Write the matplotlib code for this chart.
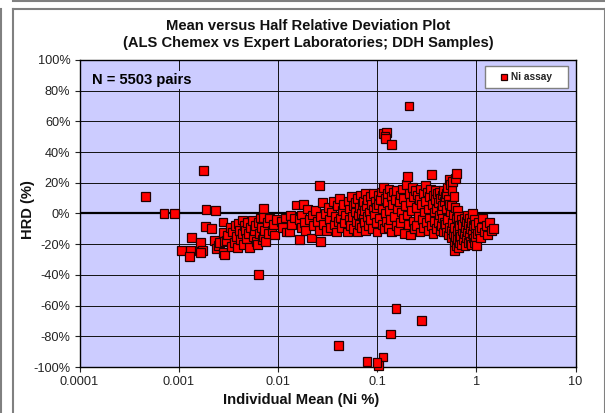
import matplotlib
matplotlib.use('Agg')
import matplotlib.pyplot as plt
import matplotlib.patheffects as pe
from matplotlib.lines import Line2D
from matplotlib.patches import Rectangle
from matplotlib.ticker import FuncFormatter

plt.rcParams['font.family'] = ['Liberation Sans', 'DejaVu Sans']

# individual mean (Ni %) and HRD (%)
mean_low = [0.00046, 0.00071, 0.00091, 0.00178, 0.00188, 0.00235, 0.00185, 0.00215, 0.00107, 0.00132,
            0.00135, 0.00128, 0.00166, 0.00175, 0.00165, 0.0064, 0.0023, 0.0024, 0.0025, 0.0026,
            0.0028, 0.0028, 0.0028, 0.0029, 0.003, 0.0029, 0.0031, 0.0033, 0.0034, 0.0035,
            0.0036, 0.0037, 0.0038, 0.0039, 0.004, 0.0041, 0.0042, 0.0044, 0.0044, 0.0045,
            0.0046, 0.0047, 0.0048, 0.0049, 0.005, 0.0052, 0.0053, 0.0055, 0.0056, 0.0058,
            0.0059, 0.006, 0.0062, 0.0063, 0.0065, 0.0066, 0.0068, 0.0069, 0.0071, 0.0072,
            0.0071, 0.0073, 0.0075, 0.0078, 0.008, 0.0083, 0.0087, 0.009, 0.0093, 0.0097]
hrd_low = [11, 0, 0, 28, 2.5, 2, -8.5, -10, -24, -24,
           -15.5, -28, -19, -24, -25.5, -39.5, -17.5, -23, -21, -19,
           -5.5, -12.5, -25.5, -18, -17.5, -27, -14, -9, -21.5, -12,
           -19, -8, -15, -22, -6.5, -11, -17, -4.3, -13, -20,
           -8, -11, -16.5, -6, -13, -22, -9, -4.5, -15, -11,
           -8, -18, -20, -6, -13, -3, -9, -17, 3.3, -2.5,
           -15, -11, -18, -6, -13, -3, -11, -7, -14, -4]

mean_mid = [0.0108, 0.0112, 0.0118, 0.0122, 0.0131, 0.0134, 0.0138, 0.0145, 0.0154, 0.0165,
            0.0166, 0.0172, 0.018, 0.0172, 0.0185, 0.019, 0.02, 0.021, 0.022, 0.0225,
            0.023, 0.024, 0.025, 0.026, 0.0262, 0.0268, 0.027, 0.028, 0.029, 0.03,
            0.031, 0.032, 0.033, 0.034, 0.035, 0.036, 0.037, 0.038, 0.039, 0.04,
            0.041, 0.042, 0.043, 0.044, 0.045, 0.046, 0.047, 0.048, 0.05, 0.051,
            0.052, 0.053, 0.054, 0.055, 0.056, 0.057, 0.058, 0.06, 0.061, 0.062,
            0.063, 0.064, 0.065, 0.066, 0.067, 0.068, 0.069, 0.07, 0.071, 0.072,
            0.073, 0.074, 0.075, 0.076, 0.077, 0.078, 0.079, 0.08, 0.082, 0.084,
            0.085, 0.086, 0.088, 0.09, 0.091, 0.092, 0.094, 0.096, 0.098, 0.099]
hrd_mid = [-5, -9, -3, -12, -12, -1.5, -7, -3, 5.5, -4,
           -17, -9, 6, -1, -6, -11, 3, -4, -16, -1,
           -8, 2, -5, -11, 18, -18, -2, 7, -7, 0,
           -11, 4, -4, -9, 1, 8, -7, -2, -12, 5,
           -5, 10, -3, -9, 2, 6, -6, -1, -12, 8,
           -4, 3, -8, 11, -2, 5, -10, 1, 7, -5,
           -12, 10, -1, 4, -7, 12, 0, -9, 6, -3,
           8, -6, 2, 13, -11, 5, -2, 9, -8, 1,
           11, -4, 6, -10, 3, 13, -1, 8, -6, 4]

mean_high = [0.1, 0.102, 0.104, 0.106, 0.108, 0.11, 0.112, 0.114, 0.116, 0.118,
             0.12, 0.122, 0.124, 0.126, 0.128, 0.13, 0.132, 0.134, 0.136, 0.138,
             0.14, 0.143, 0.146, 0.149, 0.152, 0.155, 0.158, 0.16, 0.163, 0.166,
             0.17, 0.173, 0.176, 0.18, 0.183, 0.186, 0.19, 0.193, 0.196, 0.2,
             0.203, 0.206, 0.21, 0.214, 0.218, 0.222, 0.226, 0.23, 0.234, 0.238,
             0.242, 0.246, 0.25, 0.255, 0.26, 0.265, 0.27, 0.275, 0.28, 0.285,
             0.29, 0.295, 0.3, 0.305, 0.31, 0.315, 0.32, 0.325, 0.33, 0.335,
             0.34, 0.345, 0.35, 0.355, 0.36, 0.365, 0.37, 0.375, 0.38, 0.385,
             0.39, 0.395, 0.4, 0.405, 0.41, 0.415, 0.42, 0.425, 0.43, 0.435,
             0.44, 0.445, 0.45, 0.455, 0.46, 0.465, 0.47, 0.475, 0.48, 0.485]
hrd_high = [-12, 6, 12, -3, 9, 14, -7, 3, 17, -10,
            10, 0, -5, 13, 7, -9, 16, 2, -4, 11,
            -12, 6, 14, -2, 9, -8, 15, 3, -11, 8,
            12, -6, 1, 16, -3, 10, -13, 5, 19, -1,
            24, -7, 13, 7, -14, 2, 17, -5, 11, -10,
            15, 4, -8, 12, -2, 9, -12, 16, 6, -4,
            13, -9, 1, 18, 8, -6, 14, -11, 3, 11,
            -3, 16, -8, 25.5, 6, -13, 12, 1, -5, 15,
            9, -10, 3, 13, -6, 7, -1, 14, -11, 10,
            2, -8, 12, 5, -3, 15, -12, 8, -6, 11]

mean_top = [0.49, 0.495, 0.5, 0.505, 0.51, 0.515, 0.52, 0.525, 0.53, 0.535,
            0.54, 0.545, 0.55, 0.555, 0.56, 0.565, 0.57, 0.575, 0.58, 0.585,
            0.59, 0.595, 0.6, 0.6, 0.605, 0.61, 0.615, 0.62, 0.625, 0.63,
            0.635, 0.64, 0.645, 0.65, 0.655, 0.66, 0.665, 0.67, 0.675, 0.68,
            0.69, 0.7, 0.71, 0.72, 0.73, 0.74, 0.75, 0.76, 0.77, 0.78,
            0.79, 0.8, 0.81, 0.82, 0.83, 0.84, 0.85, 0.86, 0.87, 0.88,
            0.89, 0.9, 0.91, 0.92, 0.93, 0.94, 0.95, 0.96, 0.97, 0.98,
            0.99, 1.0, 1.02, 1.05, 1.08, 1.1, 1.13, 1.16, 1.2, 1.25,
            1.3, 1.36, 1.42, 1.48]
hrd_top = [-7, 13, 3, -12, 17, -4, 9, -14, 6, 22,
           -9, 1, 19, -11, 5, -16, 15, -6, 21, -13,
           -1, 11, -19, -24, -9, 4, -15, 23, -3, -21,
           26, -11, 2, -17, -6, -22, -2, -13, -19, -8,
           -15, -4, -20, -11, -7, -17, -3, -13, -21, -9,
           -5, -16, -1, -12, -19, -7, -14, -3, -18, -10,
           -6, -20, 0, -13, -16, -8, -19, -4, -11, -15,
           -7, -21, -13, -6, -11, -16, -9, -3, -12, -8,
           -14, -6, -11, -10]

# outliers above and below the main cloud
mean_out = [0.116, 0.124, 0.12, 0.122, 0.14, 0.21, 0.155, 0.28, 0.137, 0.041, 0.079, 0.115, 0.103, 0.1]
hrd_out = [52, 53, 50, 49, 45, 70, -62, -69.5, -78.5, -86, -96.5, -93.5, -99, -97]

x_ticks = [0.0001, 0.001, 0.01, 0.1, 1, 10]
x_tick_labels = ['0.0001', '0.001', '0.01', '0.1', '1', '10']
y_ticks = [-100, -80, -60, -40, -20, 0, 20, 40, 60, 80, 100]

W, H = 605, 413
fig = plt.figure(figsize=(W / 100, H / 100), dpi=100)
ax = fig.add_axes([79.5 / W, 1 - 367 / H, 496 / W, 307 / H])
ax.set_facecolor('#CCCCFF')

# frames of the spreadsheet page
for xs, ys in [((12.5, 604.5), (8.5, 8.5)), ((12.5, 12.5), (8.5, 413)), ((604.5, 604.5), (8.5, 413)),
               ((12.5, 605), (0.5, 0.5)), ((0.5, 0.5), (8.5, 413))]:
    fig.add_artist(Line2D([x / W for x in xs], [1 - y / H for y in ys], color='#808080', lw=1.5))

ax.set_xscale('log')
ax.set_xlim(0.0001, 10)
ax.set_ylim(-100, 100)
ax.set_xticks(x_ticks)
ax.set_xticklabels(x_tick_labels)
ax.minorticks_off()
ax.set_yticks(y_ticks)
ax.yaxis.set_major_formatter(FuncFormatter(lambda v, p: f'{v:.0f}%'))
ax.tick_params(labelsize=9.2, length=3.5, width=0.8, colors='#222222', pad=3)
ax.grid(True, color='#111111', lw=0.7)
ax.set_axisbelow(True)
ax.axhline(0, color='black', lw=1.6, zorder=1.5)
for s in ax.spines.values():
    s.set_linewidth(1)

shadow = [pe.withSimplePatchShadow(offset=(0.7, -0.7), shadow_rgbFace='#555555', alpha=0.5)]
for mx, hy in [(mean_low, hrd_low), (mean_mid, hrd_mid), (mean_high, hrd_high),
               (mean_top, hrd_top), (mean_out, hrd_out)]:
    ax.plot(mx, hy, ls='none', marker='s', ms=6.3, mfc='#FF0000', mec='#220000', mew=0.9,
            clip_on=False, zorder=3, path_effects=shadow)

ax.text(0.000135, 87, 'N = 5503 pairs', fontsize=10.6, fontweight='bold', va='center', ha='left',
        bbox=dict(fc='#CCCCFF', ec='none', pad=1.5), zorder=2)

# legend box
box = Rectangle((485 / W, 1 - 88 / H), 83 / W, 22 / H, transform=fig.transFigure, fc='white',
                ec='#808080', lw=1, zorder=5)
fig.add_artist(box)
fig.add_artist(Line2D([504 / W], [1 - 77 / H], ls='none', marker='s', ms=5, mfc='#FF0000', mec='#220000',
                      mew=0.9, zorder=6))
fig.text(511 / W, 1 - 77 / H, 'Ni assay', fontsize=7.3, fontweight='bold', va='center', ha='left',
         color='#222222', zorder=6)

fig.text(308 / W, 1 - 26 / H, 'Mean versus Half Relative Deviation Plot', fontsize=10.6, fontweight='bold',
         ha='center', va='center', color='#111111')
fig.text(308 / W, 1 - 43 / H, '(ALS Chemex vs Expert Laboratories; DDH Samples)', fontsize=10.6,
         fontweight='bold', ha='center', va='center', color='#111111')
fig.text(301 / W, 1 - 400 / H, 'Individual Mean (Ni %)', fontsize=10.6, fontweight='bold', ha='center',
         va='center', color='#111111')
fig.text(28 / W, 1 - 210 / H, 'HRD (%)', fontsize=10.6, fontweight='bold', rotation=90, ha='center',
         va='center', color='#111111')

fig.savefig('out.png', dpi=100)
plt.close(fig)
